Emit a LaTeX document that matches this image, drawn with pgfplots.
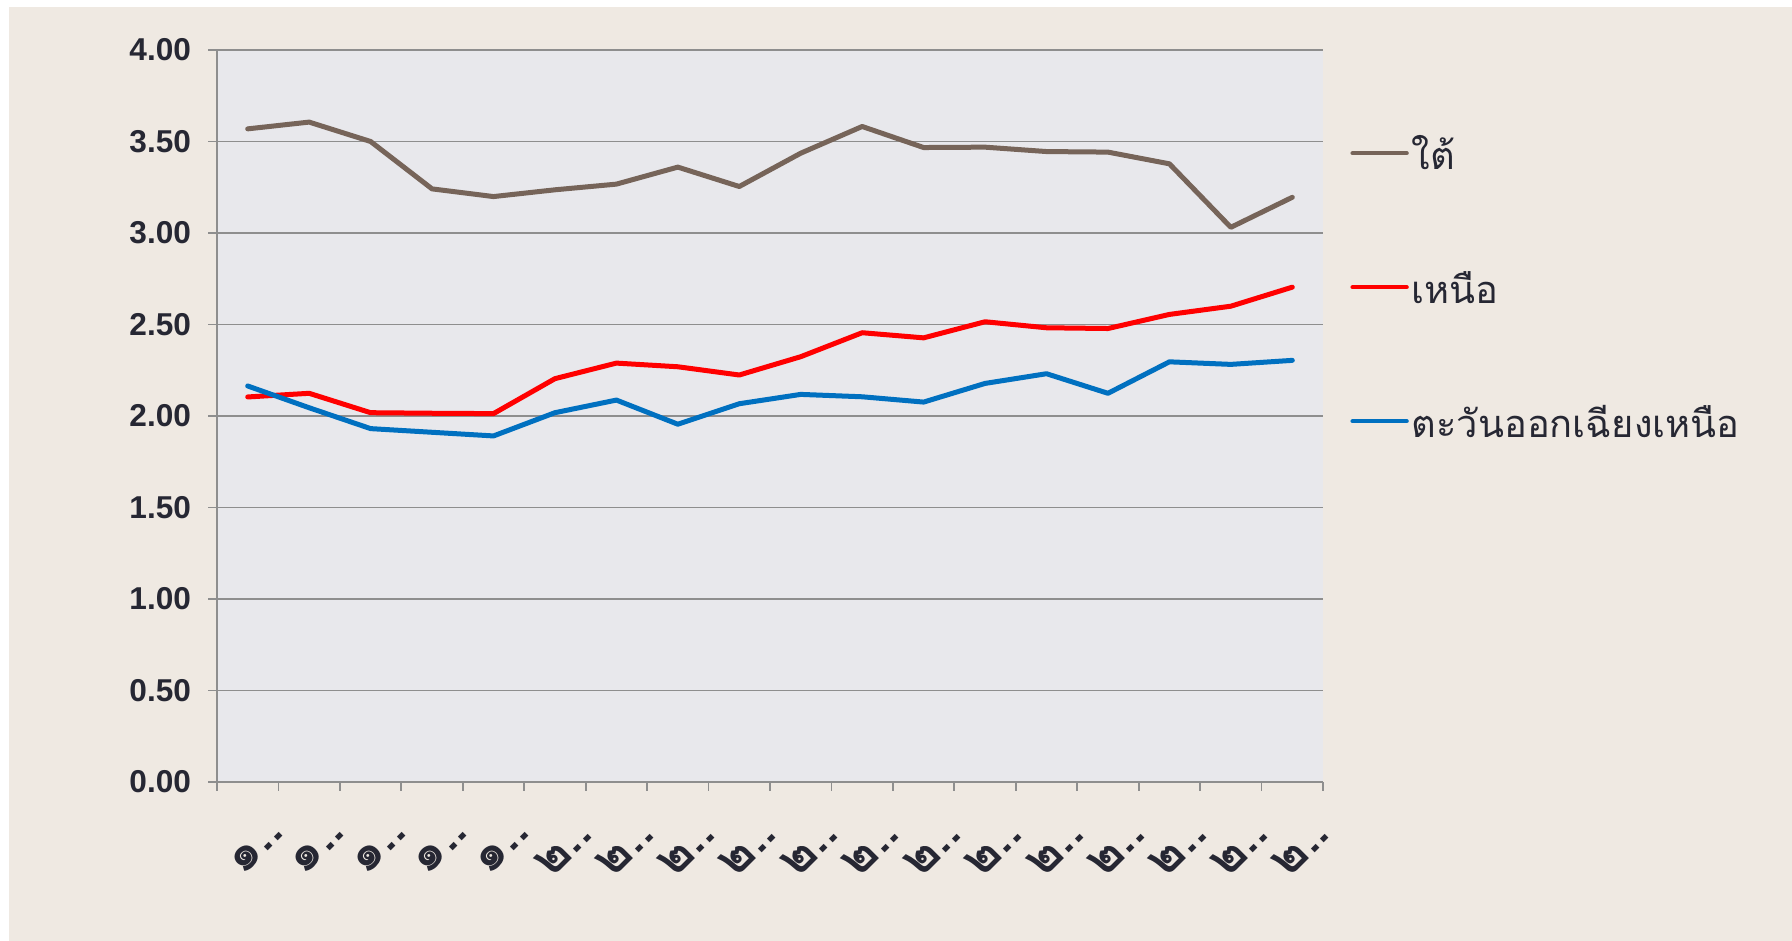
\documentclass[border=0pt]{standalone}
\usepackage{pgfplots}
\pgfplotsset{compat=1.18}
\usepackage{fontspec}
\setmainfont{Liberation Sans}
\newfontfamily\thaifont[Script=Thai]{Loma}
\definecolor{bgbeige}{HTML}{EFE9E2}
\definecolor{plotbg}{HTML}{E8E8EC}
\definecolor{gridgray}{HTML}{8E8E8E}
\definecolor{txt}{HTML}{262733}
\definecolor{southc}{HTML}{766459}
\definecolor{northc}{HTML}{FF0000}
\definecolor{nec}{HTML}{0070C0}
\begin{document}
\begin{tikzpicture}[x=1pt,y=1pt]
\fill[white] (0,0) rectangle (896,470.5);
\fill[bgbeige] (4.5,0) rectangle (896,467);
\path[use as bounding box] (0,0) rectangle (896,470.5);
\begin{axis}[
  at={(108.5pt,79.5pt)}, anchor=south west,
  scale only axis, width=553pt, height=366pt,
  xmin=-0.5, xmax=17.5, ymin=0, ymax=4,
  axis lines=left,
  axis line style={-, draw=gridgray, line width=0.9pt},
  axis background/.style={fill=plotbg},
  xtick={-0.5,0.5,...,17.5}, xticklabels={},
  every x tick/.style={draw=gridgray, line width=0.9pt},
  every y tick/.style={draw=gridgray, line width=0.9pt},
  tick align=outside,
  extra x ticks={0,1,...,17},
  extra x tick labels={๑..,๑..,๑..,๑..,๑..,๒..,๒..,๒..,๒..,๒..,๒..,๒..,๒..,๒..,๒..,๒..,๒..,๒..},
  extra x tick style={major tick length=0pt,
     tick label style={font=\thaifont\bfseries\fontsize{25}{29}\selectfont, text=txt,
       xshift=15pt, yshift=-22pt, rotate=45, anchor=east, inner sep=0pt}},
  ytick={0,0.5,...,4},
  ymajorgrids,
  grid style={draw=gridgray, line width=0.9pt},
  major tick length=4.5pt,
  y tick label style={font=\bfseries\fontsize{15.8}{18}\selectfont, text=txt, xshift=-5pt},
  yticklabel style={/pgf/number format/.cd, fixed, fixed zerofill, precision=2, assume math mode=true},
  legend style={at={(1.019,0.665)}, anchor=west, draw=none, fill=none,
     font=\thaifont\fontsize{19}{22}\selectfont, text=txt, row sep=50pt,
     nodes={inner sep=1.5pt, text height=11pt, text depth=3pt}},
  legend cell align=left,
  legend image code/.code={\draw[#1, line width=2.2pt, line cap=round] (0pt,4pt) -- (27pt,4pt);},
  every axis plot/.append style={line width=2.5pt, line join=round, line cap=round},
]
\addplot[southc] coordinates {(0,3.569)(1,3.606)(2,3.50)(3,3.241)(4,3.199)(5,3.236)(6,3.267)(7,3.36)(8,3.254)(9,3.436)(10,3.582)(11,3.467)(12,3.469)(13,3.445)(14,3.442)(15,3.378)(16,3.031)(17,3.195)};
\addlegendentry{ใต้}
\addplot[northc] coordinates {(0,2.104)(1,2.124)(2,2.018)(3,2.015)(4,2.013)(5,2.204)(6,2.289)(7,2.269)(8,2.224)(9,2.324)(10,2.455)(11,2.427)(12,2.515)(13,2.482)(14,2.478)(15,2.555)(16,2.60)(17,2.704)};
\addlegendentry{เหนือ}
\addplot[nec] coordinates {(0,2.164)(1,2.045)(2,1.931)(3,1.911)(4,1.891)(5,2.018)(6,2.087)(7,1.955)(8,2.067)(9,2.118)(10,2.105)(11,2.076)(12,2.178)(13,2.231)(14,2.124)(15,2.296)(16,2.282)(17,2.304)};
\addlegendentry{ตะวันออกเฉียงเหนือ}
\end{axis}
\end{tikzpicture}
\end{document}
